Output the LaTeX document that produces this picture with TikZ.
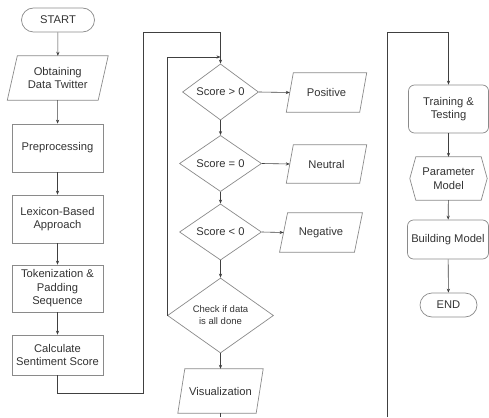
\documentclass[tikz,border=0pt]{standalone}
\usepackage{fontspec}
\setmainfont{Liberation Sans}
\usetikzlibrary{shapes.geometric,arrows.meta}
\definecolor{edgegray}{HTML}{8A8A8A}
\definecolor{txt}{HTML}{333333}
\definecolor{conn}{HTML}{404040}
\tikzset{
 base/.style={inner sep=0pt, align=center, text=txt, font=\fontsize{11.2}{13.5}\selectfont},
 proc/.style={base, draw=edgegray, line width=0.7pt, rectangle},
 term/.style={base, draw=edgegray, line width=0.7pt, rounded corners=12pt},
 rproc/.style={base, draw=edgegray, line width=0.7pt, rounded corners=6pt},
 dec/.style={base, draw=edgegray, line width=0.7pt, diamond},
 plainbox/.style={base},
 arr/.style={draw=conn, line width=0.6pt, -{Stealth[length=4pt,width=3.2pt]}},
 ln/.style={draw=conn, line width=0.6pt},
 outline/.style={draw=edgegray, line width=0.7pt, line join=miter},
}
\newcommand{\ioshape}[2]{\draw[outline] ([xshift=#2]#1.north west) -- ([xshift=#2]#1.north east) -- ([xshift=-#2]#1.south east) -- ([xshift=-#2]#1.south west) -- cycle;}
\begin{document}
\begin{tikzpicture}[x=1pt,y=-1pt]
\useasboundingbox (0,0) rectangle (489,417);
% left column
\node[term, minimum width=73pt, minimum height=24pt] (start) at (58,20) {START};
\node[plainbox, minimum width=90.5pt, minimum height=44pt] (obt) at (57.75,78) {Obtaining\\Data Twitter};
\ioshape{obt}{5pt}
\node[proc, minimum width=91pt, minimum height=48pt] (pre) at (57.5,148) {Preprocessing};
\node[proc, minimum width=91pt, minimum height=48pt] (lex) at (57.5,219) {Lexicon-Based\\Approach};
\node[proc, minimum width=91pt, minimum height=47pt] (tok) at (57.5,288.5) {Tokenization \&\\Padding\\Sequence};
\node[proc, minimum width=91pt, minimum height=40pt] (calc) at (57.5,355) {Calculate\\Sentiment Score};
% middle column
\node[dec, minimum width=76pt, minimum height=52pt] (d1) at (220.5,92) {Score > 0};
\node[plainbox, minimum width=73pt, minimum height=39pt] (pos) at (326.5,92.5) {Positive};
\ioshape{pos}{3.5pt}
\node[dec, minimum width=82pt, minimum height=53pt] (d2) at (220.5,163.5) {Score = 0};
\node[plainbox, minimum width=73pt, minimum height=38pt] (neu) at (326.5,164) {Neutral};
\ioshape{neu}{3.5pt}
\node[dec, minimum width=82pt, minimum height=52pt] (d3) at (220.5,232) {Score < 0};
\node[plainbox, minimum width=74.5pt, minimum height=39pt] (neg) at (321,232.5) {Negative};
\ioshape{neg}{4pt}
\node[dec, minimum width=106pt, minimum height=75pt, font=\fontsize{9.5}{12}\selectfont] (chk) at (220.5,315.5) {Check if data\\is all done};
\node[plainbox, minimum width=78pt, minimum height=44pt] (vis) at (220.5,391) {Visualization};
\ioshape{vis}{3.5pt}
% right column
\node[rproc, minimum width=80pt, minimum height=48pt] (train) at (448.5,109) {Training \&\\Testing};
\node[plainbox, minimum width=77pt, minimum height=43pt] (par) at (448.5,178.5) {Parameter\\Model};
\draw[outline] ([xshift=6pt]par.north west) -- ([xshift=-6pt]par.north east) -- (par.east) -- ([xshift=-6pt]par.south east) -- ([xshift=6pt]par.south west) -- (par.west) -- cycle;
\node[rproc, minimum width=81pt, minimum height=39pt] (build) at (448,239.5) {Building Model};
\node[term, minimum width=57pt, minimum height=24pt] (end) at (448.5,305) {END};
% connectors left
\draw[arr] (start) -- (obt);
\draw[arr] (obt) -- (pre);
\draw[arr] (pre) -- (lex);
\draw[arr] (lex) -- (tok);
\draw[arr] (tok) -- (calc);
\coordinate (c1) at (143.5,393);
\coordinate (c2) at (143.5,32);
\draw[arr] (calc.south) |- (c1) -- (c2) -| (d1.north);
% middle
\coordinate (c3) at (220.5,57);
\draw[arr] (chk.west) |- (c3);
\draw[arr] (d1.east) -- (pos.west);
\draw[arr] (d2.east) -- (neu.west);
\draw[arr] (d3.east) -- (neg.west);
\draw[arr] (d1.south) -- (d2.north);
\draw[arr] (d2.south) -- (d3.north);
\draw[arr] (d3.south) -- (chk.north);
\draw[arr] (chk.south) -- (vis.north);
\coordinate (vb) at (220.5,417);
\draw[ln] (vis.south) -- (vb);
% right
\coordinate (r1) at (387,417);
\coordinate (r2) at (387,32);
\draw[arr] (r1) -- (r2) -| (train.north);
\draw[arr] (train) -- (par);
\draw[arr] (par) -- (build);
\draw[arr] (build) -- (end);
\end{tikzpicture}
\end{document}
